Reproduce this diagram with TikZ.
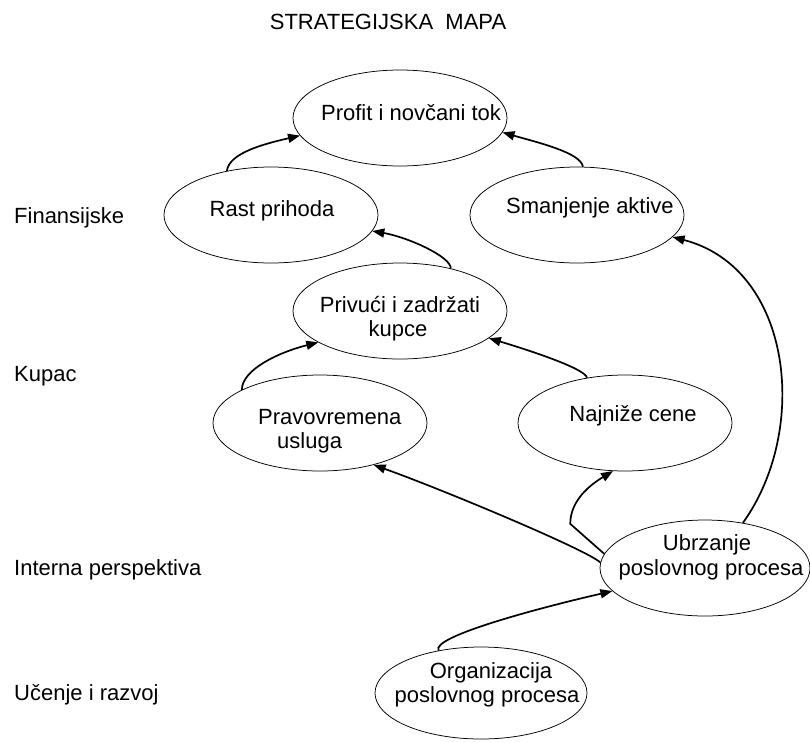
\documentclass[tikz,border=0pt]{standalone}
\usepackage{fontspec}
\setmainfont{Liberation Sans}
\usetikzlibrary{shapes.geometric,arrows.meta}
\begin{document}
\begin{tikzpicture}[x=1pt,y=-1pt,
  oval/.style={draw, ellipse, line width=0.75pt, minimum width=214pt, minimum height=96pt, inner sep=0pt},
  txt/.style={font=\fontsize{22}{24}\selectfont, inner sep=0pt, anchor=base},
  lbl/.style={txt, anchor=base west},
  conn/.style={line width=1.7pt, -{Triangle[length=12pt,width=9pt]}}]
\useasboundingbox (0,0) rectangle (810,742);
% ellipses
\node[oval] (profit) at (400,118) {};
\node[oval] (rast) at (271,215) {};
\node[oval] (smanj) at (577,215) {};
\node[oval] (privuci) at (400,311) {};
\node[oval] (pravo) at (320,423) {};
\node[oval] (najn) at (625,423) {};
\node[oval, minimum width=210pt] (ubrz) at (705,568) {};
\node[oval, minimum width=212pt, minimum height=92pt] (org) at (481,693) {};
% texts
\node[txt] (t-title) at (388,29) {STRATEGIJSKA\ \ MAPA};
\node[txt] (t-profit) at (411,120) {Profit i novčani tok};
\node[txt] (t-rast) at (272,216) {Rast prihoda};
\node[txt] (t-smanj) at (590,213) {Smanjenje aktive};
\node[txt] (t-priv1) at (400,312) {Privući i zadržati};
\node[txt] (t-priv2) at (398,336) {kupce};
\node[lbl] (t-pravo1) at (258,424) {Pravovremena};
\node[lbl] (t-pravo2) at (277,448) {usluga};
\node[txt] (t-najn) at (633,421) {Najniže cene};
\node[txt] (t-ubrz1) at (707,550) {Ubrzanje};
\node[txt] (t-ubrz2) at (711,575) {poslovnog procesa};
\node[txt] (t-org1) at (491,678) {Organizacija};
\node[txt] (t-org2) at (487,702) {poslovnog procesa};
% left labels
\node[lbl] (l-fin) at (14,223) {Finansijske};
\node[lbl] (l-kup) at (14,381) {Kupac};
\node[lbl] (l-int) at (14,575) {Interna perspektiva};
\node[lbl] (l-uc) at (14,700) {Učenje i razvoj};
% connectors
\draw[conn] (rast.135) .. controls +(2,-18) and +(-35,8) .. (profit.190);
\draw[conn] (smanj.83) .. controls +(-2,-14) and +(35,10) .. (profit.352);
\draw[conn] (privuci.40) .. controls +(0,-12) and +(35,6) .. (rast.351);
\draw[conn] (pravo.157) .. controls +(0,-20) and +(-40,10) .. (privuci.201);
\draw[conn] (najn.130) .. controls +(-2,-10) and +(30,9) .. (privuci.343);
\draw[conn] (ubrz.177) .. controls +(-12,-12) and +(70,25) .. (pravo.322);
\draw[conn] (ubrz.172) -- ++(-34,-30) .. controls +(0,-25) and +(-20,12) .. (najn.256);
\draw[conn] (ubrz.50) .. controls +(67,-93) and +(120,31) .. (smanj.347);
\draw[conn] (org.135) .. controls +(-8,-14) and +(-70,16) .. (ubrz.194);
\end{tikzpicture}
\end{document}
